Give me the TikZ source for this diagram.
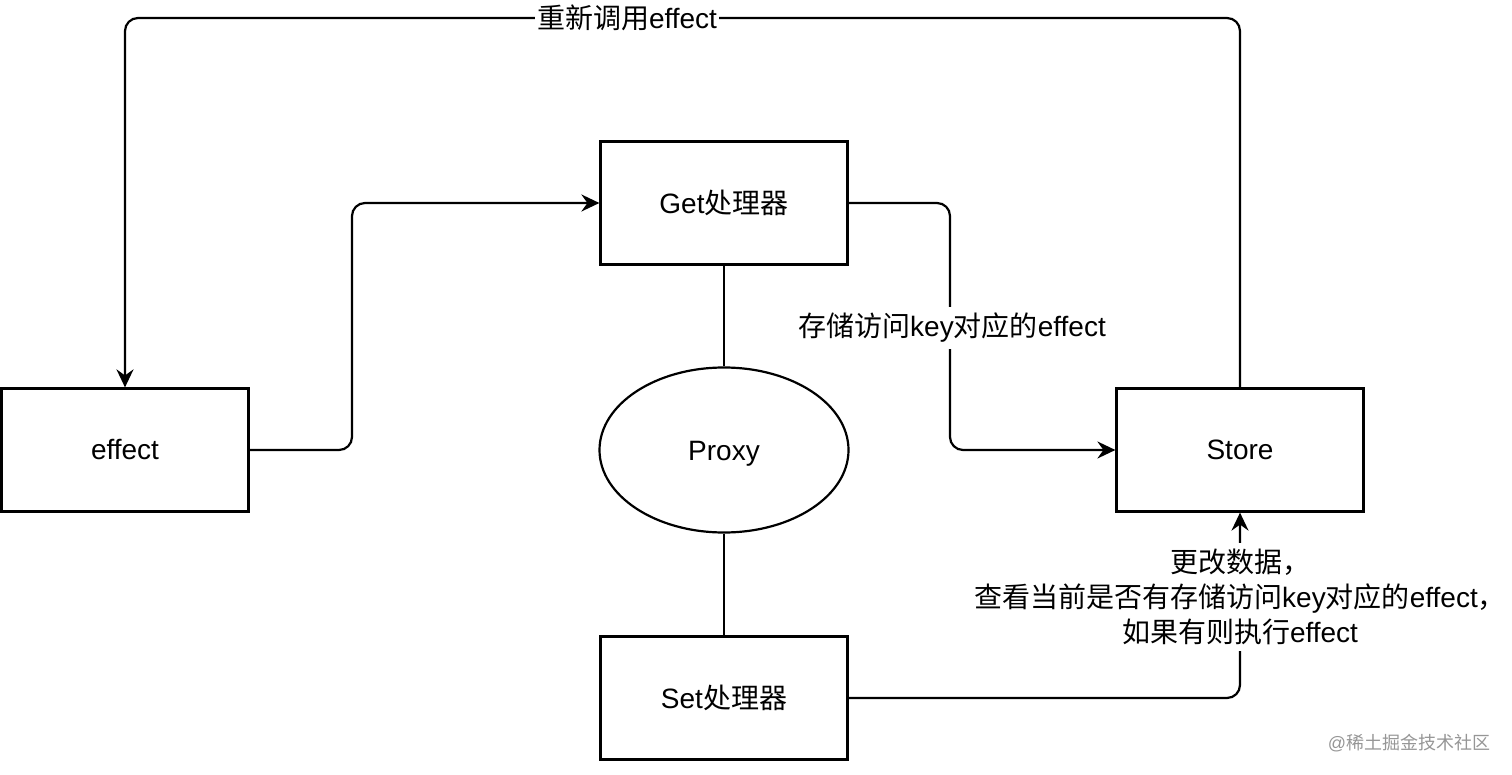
\documentclass[tikz,border=0pt]{standalone}
\usepackage{fontspec}
\setmainfont{Liberation Sans}
\newfontfamily\cjk{Noto Sans CJK SC}
\usetikzlibrary{arrows.meta,shapes.geometric}
\definecolor{wmgray}{RGB}{150,150,150}
\tikzset{
  every node/.style={font=\fontsize{28}{35}\selectfont},
  box/.style={draw, line width=2.2pt, rectangle, inner sep=0pt, minimum width=247pt, minimum height=123pt},
  oval/.style={draw, line width=2.2pt, ellipse, inner sep=0pt, minimum width=249pt, minimum height=165pt, text height=20pt, text depth=0pt},
  conn/.style={line width=2.2pt, rounded corners=13pt},
  arr/.style={conn, -{Stealth[length=18pt,width=17pt,inset=6pt]}},
  lbl/.style={fill=white, inner xsep=2pt, inner ysep=6pt, align=center},
  wm/.style={font=\fontsize{18}{22}\selectfont, text=wmgray}
}
\begin{document}
\begin{tikzpicture}[x=1pt,y=-1pt]
\useasboundingbox (0,0) rectangle (1512,775);
\node[box] (effect) at (125,450) {effect};
\node[box] (get) at (724,203) {Get{\cjk 处理器}};
\node[oval] (proxy) at (724,450) {Proxy};
\node[box] (set) at (724,698) {Set{\cjk 处理器}};
\node[box] (store) at (1240,450) {Store};
\coordinate (e1) at (352,450);
\coordinate (g1) at (950,203);
\coordinate (topR) at (1240,18);
\coordinate (topL) at (125,18);
\draw[arr] (effect.east) -- (e1) |- (get.west);
\draw[arr] (get.east) -- (g1) |- (store.west);
\draw[arr] (store.north) -- (topR) -- (topL) -- (effect.north);
\draw[conn] (get.south) -- (proxy.north);
\draw[conn] (proxy.south) -- (set.north);
\draw[arr] (set.east) -| (store.south);
\node[lbl] (l1) at (627,18) {{\cjk 重新调用}effect};
\node[lbl] (l2) at (952,328) {{\cjk 存储访问}key{\cjk 对应的}effect};
\node[lbl] (l3) at (1240,597) {{\cjk 更改数据，}\\{\cjk 查看当前是否有存储访问}key{\cjk 对应的}effect{\cjk ，}\\{\cjk 如果有则执行}effect};
\node[wm] (wm) at (1409,743) {@{\cjk 稀土掘金技术社区}};
\end{tikzpicture}
\end{document}
